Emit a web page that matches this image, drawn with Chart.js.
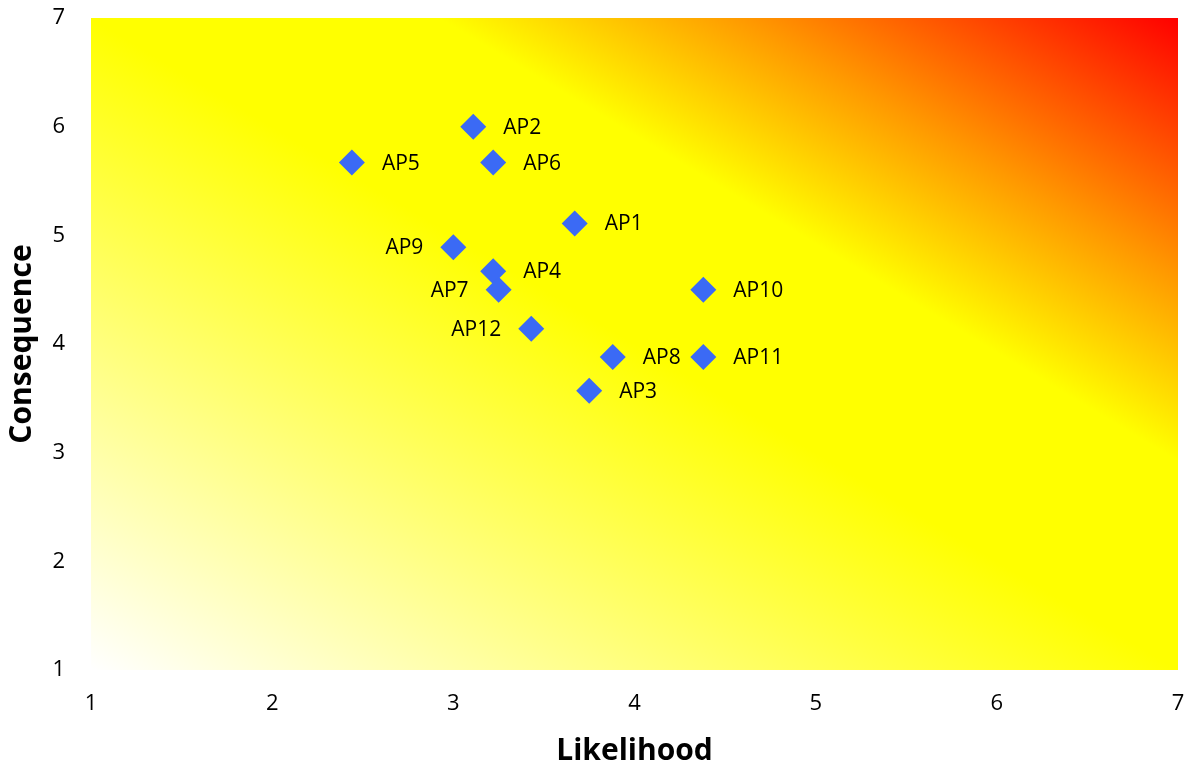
<!DOCTYPE html>
<html>
<head>
<meta charset="utf-8">
<script src="https://cdn.jsdelivr.net/npm/chart.js@4/dist/chart.umd.min.js"></script>
<style>
  html, body { margin: 0; padding: 0; background: #ffffff; }
  #wrap { width: 1187px; height: 767px; }
</style>
</head>
<body>
<div id="wrap"><canvas id="risk" width="1187" height="767"></canvas></div>
<script>
// Action points: likelihood (x) and consequence (y)
const pointNames  = ['AP1', 'AP2', 'AP3', 'AP4', 'AP5', 'AP6', 'AP7', 'AP8', 'AP9', 'AP10', 'AP11', 'AP12'];
const likelihood  = [3.67, 3.11, 3.75, 3.22, 2.44, 3.22, 3.25, 3.88, 3.00, 4.38, 4.38, 3.43];
const consequence = [5.11, 6.00, 3.57, 4.67, 5.67, 5.67, 4.50, 3.88, 4.89, 4.50, 3.88, 4.14];
const axisTicks   = [1, 2, 3, 4, 5, 6, 7];

// Labels drawn to the left of their marker (all others go to the right)
const leftLabelled = ['AP7', 'AP9', 'AP12'];

const FONT = '"Open Sans", "Noto Sans", sans-serif';

// Risk background: white -> yellow -> orange -> red along the diagonal of the plot area
const riskBackground = {
  id: 'riskBackground',
  beforeDraw(chart) {
    const { ctx, chartArea: a } = chart;
    ctx.save();
    ctx.fillStyle = '#ffffff';
    ctx.fillRect(0, 0, chart.width, chart.height);
    ctx.translate(a.left, a.bottom);
    ctx.scale(a.right - a.left, -(a.bottom - a.top));
    const g = ctx.createLinearGradient(0, 0, 1, 1);
    g.addColorStop(0.00, '#ffffff');
    g.addColorStop(0.50, '#ffff00');
    g.addColorStop(0.66, '#ffff00');
    g.addColorStop(0.80, '#ff9900');
    g.addColorStop(1.00, '#ff0000');
    ctx.fillStyle = g;
    ctx.fillRect(0, 0, 1, 1);
    ctx.restore();
  }
};

// Point name next to each marker
const pointLabels = {
  id: 'pointLabels',
  afterDatasetsDraw(chart) {
    const { ctx } = chart;
    const meta = chart.getDatasetMeta(0);
    ctx.save();
    ctx.font = '21px ' + FONT;
    ctx.fillStyle = '#000000';
    ctx.textBaseline = 'middle';
    meta.data.forEach((el, i) => {
      const name = pointNames[i];
      const left = leftLabelled.includes(name);
      ctx.textAlign = left ? 'right' : 'left';
      ctx.fillText(name, el.x + (left ? -30 : 30), el.y + 1);
    });
    ctx.restore();
  }
};

const points = likelihood.map((x, i) => ({ x: x, y: consequence[i] }));

new Chart(document.getElementById('risk'), {
  type: 'scatter',
  data: {
    datasets: [{
      data: points,
      pointStyle: 'rectRot',
      pointRadius: 13,
      pointHoverRadius: 13,
      backgroundColor: '#3b6af5',
      borderWidth: 0
    }]
  },
  options: {
    responsive: false,
    animation: false,
    events: [],
    layout: { autoPadding: false, padding: { top: 18, right: 9, left: 0, bottom: 0 } },
    plugins: { legend: { display: false }, tooltip: { enabled: false } },
    scales: {
      x: {
        type: 'linear',
        min: axisTicks[0],
        max: axisTicks[axisTicks.length - 1],
        afterBuildTicks(scale) { scale.ticks = axisTicks.map(v => ({ value: v })); },
        afterFit(scale) {
          scale.height = 97;
          scale.paddingLeft = 0;
          scale.paddingRight = 0;
          scale.paddingTop = 0;
          scale.paddingBottom = 0;
        },
        grid: { display: false, drawTicks: false },
        border: { display: false },
        ticks: { color: '#000000', font: { family: FONT, size: 22 }, padding: 21, maxRotation: 0 },
        title: {
          display: true, text: 'Likelihood', color: '#000000',
          font: { family: FONT, size: 30, weight: 'bold', lineHeight: 1 },
          padding: { top: 0, bottom: 1 }
        }
      },
      y: {
        type: 'linear',
        min: axisTicks[0],
        max: axisTicks[axisTicks.length - 1],
        afterBuildTicks(scale) { scale.ticks = axisTicks.map(v => ({ value: v })); },
        afterFit(scale) {
          scale.width = 91;
          scale.paddingTop = 0;
          scale.paddingBottom = 0;
          scale.paddingLeft = 0;
          scale.paddingRight = 0;
        },
        grid: { display: false, drawTicks: false },
        border: { display: false },
        ticks: { color: '#000000', font: { family: FONT, size: 22 }, padding: 26 },
        title: {
          display: true, text: 'Consequence', color: '#000000',
          font: { family: FONT, size: 30, weight: 'bold', lineHeight: 1 },
          padding: { top: 7, bottom: 0 }
        }
      }
    }
  },
  plugins: [riskBackground, pointLabels]
});
</script>
</body>
</html>
